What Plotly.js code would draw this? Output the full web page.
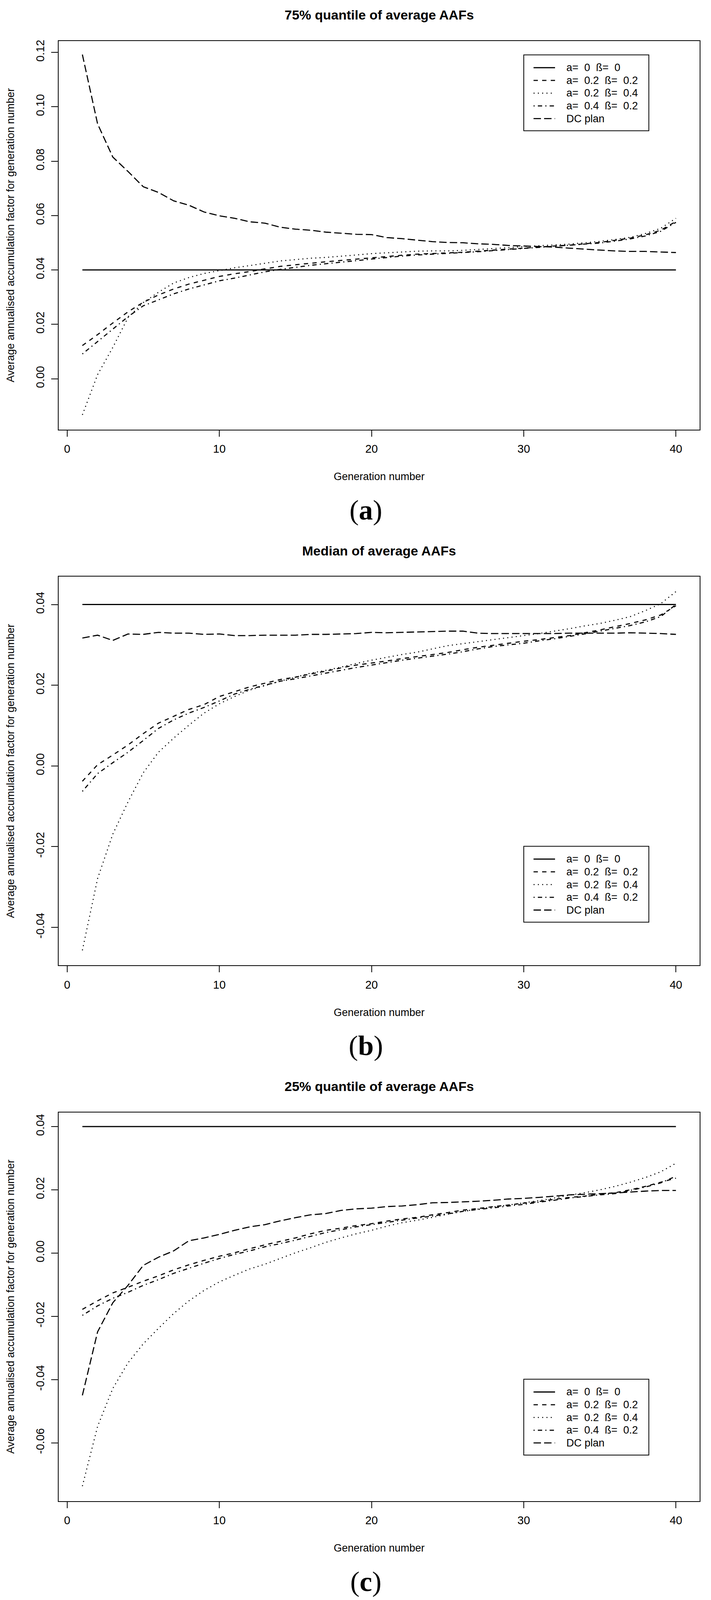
<!DOCTYPE html>
<html>
<head>
<meta charset="utf-8">
<script src="https://cdn.plot.ly/plotly-3.0.1.min.js"></script>
<style>
  html, body { margin: 0; padding: 0; background: #ffffff; overflow: hidden; }
  #chart { width: 1819px; }
</style>
</head>
<body>
<div id="chart"></div>
<script>
// ---------------- data ----------------
const generation = [1,2,3,4,5,6,7,8,9,10,11,12,13,14,15,16,17,18,19,20,
                    21,22,23,24,25,26,27,28,29,30,31,32,33,34,35,36,37,38,39,40];

const seriesNames = [
  "a=\u00a0\u00a00\u00a0\u00a0ß=\u00a0\u00a00",
  "a=\u00a0\u00a00.2\u00a0\u00a0ß=\u00a0\u00a00.2",
  "a=\u00a0\u00a00.2\u00a0\u00a0ß=\u00a0\u00a00.4",
  "a=\u00a0\u00a00.4\u00a0\u00a0ß=\u00a0\u00a00.2",
  "DC plan"
];

const panelTitles = ["75% quantile of average AAFs", "Median of average AAFs", "25% quantile of average AAFs"];
const panelLabels = ["a", "b", "c"];
const xAxisTitle = "Generation number";
const yAxisTitle = "Average annualised accumulation factor for generation number";

const xTickVals = [0, 10, 20, 30, 40];
const xTickText = ["0", "10", "20", "30", "40"];

const yTickVals75 = [0.00, 0.02, 0.04, 0.06, 0.08, 0.10, 0.12];
const yTickText75 = ["0.00", "0.02", "0.04", "0.06", "0.08", "0.10", "0.12"];
const yTickValsMed = [-0.04, -0.02, 0.00, 0.02, 0.04];
const yTickTextMed = ["-0.04", "-0.02", "0.00", "0.02", "0.04"];
const yTickVals25 = [-0.06, -0.04, -0.02, 0.00, 0.02, 0.04];
const yTickText25 = ["-0.06", "-0.04", "-0.02", "0.00", "0.02", "0.04"];

// ---- 75% quantile ----
const q75_a0_b0 = [0.04,0.04,0.04,0.04,0.04,0.04,0.04,0.04,0.04,0.04,0.04,0.04,0.04,0.04,0.04,0.04,0.04,0.04,0.04,0.04,
                   0.04,0.04,0.04,0.04,0.04,0.04,0.04,0.04,0.04,0.04,0.04,0.04,0.04,0.04,0.04,0.04,0.04,0.04,0.04,0.04];
const q75_a02_b02 = [0.0122,0.0162,0.0205,0.0246,0.0281,0.0308,0.0330,0.0348,0.0362,0.0376,
                     0.0386,0.0394,0.0404,0.0413,0.0419,0.0425,0.0430,0.0435,0.0440,0.0445,
                     0.0450,0.0454,0.0458,0.0460,0.0463,0.0465,0.0469,0.0473,0.0476,0.0480,
                     0.0484,0.0488,0.0491,0.0496,0.0501,0.0509,0.0517,0.0529,0.0546,0.0578];
const q75_a02_b04 = [-0.0133,0.0015,0.0115,0.0225,0.0280,0.0318,0.0352,0.0372,0.0387,0.0398,
                     0.0408,0.0416,0.0425,0.0433,0.0438,0.0443,0.0446,0.0450,0.0455,0.0460,
                     0.0463,0.0466,0.0469,0.0470,0.0470,0.0472,0.0475,0.0478,0.0482,0.0486,
                     0.0489,0.0492,0.0495,0.0500,0.0505,0.0512,0.0520,0.0534,0.0553,0.0590];
const q75_a04_b02 = [0.0091,0.0137,0.0182,0.0228,0.0268,0.0290,0.0312,0.0330,0.0345,0.0360,
                     0.0370,0.0381,0.0393,0.0402,0.0410,0.0417,0.0423,0.0428,0.0434,0.0440,
                     0.0446,0.0451,0.0455,0.0458,0.0460,0.0463,0.0467,0.0471,0.0475,0.0479,
                     0.0483,0.0487,0.0490,0.0494,0.0499,0.0506,0.0514,0.0525,0.0542,0.0575];
const q75_dc = [0.1192,0.0937,0.0815,0.0762,0.0706,0.0685,0.0654,0.0638,0.0613,0.0599,
                0.0590,0.0577,0.0572,0.0557,0.0550,0.0546,0.0539,0.0535,0.0531,0.0530,
                0.0519,0.0515,0.0510,0.0504,0.0501,0.0500,0.0496,0.0494,0.0490,0.0488,
                0.0486,0.0484,0.0480,0.0476,0.0473,0.0470,0.0468,0.0468,0.0466,0.0464];

// ---- median ----
const med_a0_b0 = [0.04,0.04,0.04,0.04,0.04,0.04,0.04,0.04,0.04,0.04,0.04,0.04,0.04,0.04,0.04,0.04,0.04,0.04,0.04,0.04,
                   0.04,0.04,0.04,0.04,0.04,0.04,0.04,0.04,0.04,0.04,0.04,0.04,0.04,0.04,0.04,0.04,0.04,0.04,0.04,0.04];
const med_a02_b02 = [-0.0038,0.0003,0.0027,0.0052,0.0080,0.0106,0.0123,0.0140,0.0152,0.0172,
                     0.0184,0.0196,0.0205,0.0214,0.0220,0.0228,0.0235,0.0243,0.0250,0.0255,
                     0.0260,0.0266,0.0271,0.0276,0.0281,0.0288,0.0294,0.0299,0.0304,0.0309,
                     0.0313,0.0318,0.0323,0.0330,0.0337,0.0345,0.0353,0.0362,0.0374,0.0397];
const med_a02_b04 = [-0.0457,-0.0279,-0.0169,-0.0089,-0.0017,0.0034,0.0069,0.0101,0.0131,0.0154,
                     0.0172,0.0188,0.0199,0.0210,0.0220,0.0230,0.0237,0.0245,0.0254,0.0262,
                     0.0269,0.0276,0.0282,0.0290,0.0298,0.0303,0.0308,0.0313,0.0318,0.0323,
                     0.0328,0.0334,0.0340,0.0347,0.0353,0.0361,0.0370,0.0385,0.0402,0.0432];
const med_a04_b02 = [-0.0063,-0.0019,0.0008,0.0034,0.0063,0.0093,0.0114,0.0131,0.0145,0.0161,
                     0.0178,0.0190,0.0200,0.0210,0.0216,0.0223,0.0230,0.0237,0.0244,0.0250,
                     0.0256,0.0262,0.0267,0.0272,0.0277,0.0283,0.0290,0.0296,0.0300,0.0304,
                     0.0310,0.0315,0.0321,0.0327,0.0334,0.0341,0.0348,0.0357,0.0370,0.0400];
const med_dc = [0.0317,0.0324,0.0311,0.0327,0.0326,0.0331,0.0329,0.0329,0.0326,0.0327,
                0.0323,0.0323,0.0324,0.0324,0.0324,0.0326,0.0326,0.0327,0.0328,0.0331,
                0.0330,0.0331,0.0332,0.0333,0.0334,0.0334,0.0329,0.0328,0.0328,0.0328,
                0.0328,0.0328,0.0329,0.0329,0.0329,0.0329,0.0330,0.0329,0.0328,0.0326];

// ---- 25% quantile ----
const q25_a0_b0 = [0.04,0.04,0.04,0.04,0.04,0.04,0.04,0.04,0.04,0.04,0.04,0.04,0.04,0.04,0.04,0.04,0.04,0.04,0.04,0.04,
                   0.04,0.04,0.04,0.04,0.04,0.04,0.04,0.04,0.04,0.04,0.04,0.04,0.04,0.04,0.04,0.04,0.04,0.04,0.04,0.04];
const q25_a02_b02 = [-0.0178,-0.0151,-0.0126,-0.0108,-0.0089,-0.0072,-0.0053,-0.0037,-0.0023,-0.0010,
                     0.0001,0.0014,0.0026,0.0037,0.0048,0.0061,0.0072,0.0079,0.0087,0.0093,
                     0.0101,0.0108,0.0113,0.0121,0.0128,0.0136,0.0141,0.0147,0.0152,0.0158,
                     0.0163,0.0170,0.0176,0.0180,0.0186,0.0191,0.0200,0.0211,0.0224,0.0237];
const q25_a02_b04 = [-0.0737,-0.0548,-0.0428,-0.0347,-0.0287,-0.0238,-0.0191,-0.0151,-0.0118,-0.0091,
                     -0.0070,-0.0050,-0.0035,-0.0017,0.0001,0.0017,0.0034,0.0048,0.0061,0.0072,
                     0.0085,0.0096,0.0104,0.0113,0.0123,0.0132,0.0139,0.0146,0.0152,0.0159,
                     0.0166,0.0174,0.0183,0.0191,0.0200,0.0211,0.0224,0.0239,0.0257,0.0284];
const q25_a04_b02 = [-0.0197,-0.0167,-0.0143,-0.0124,-0.0102,-0.0084,-0.0064,-0.0048,-0.0032,-0.0017,
                     -0.0004,0.0007,0.0020,0.0030,0.0041,0.0053,0.0065,0.0074,0.0083,0.0090,
                     0.0097,0.0104,0.0111,0.0117,0.0124,0.0132,0.0138,0.0143,0.0149,0.0154,
                     0.0161,0.0167,0.0174,0.0179,0.0184,0.0188,0.0198,0.0209,0.0222,0.0243];
const q25_dc = [-0.0450,-0.0249,-0.0157,-0.0102,-0.0039,-0.0013,0.0007,0.0039,0.0048,0.0059,
                0.0072,0.0083,0.0090,0.0102,0.0112,0.0121,0.0125,0.0135,0.0140,0.0142,
                0.0147,0.0149,0.0153,0.0159,0.0160,0.0162,0.0164,0.0167,0.0171,0.0173,
                0.0176,0.0180,0.0184,0.0186,0.0188,0.0190,0.0193,0.0196,0.0198,0.0198];

// ---------------- build ----------------
// Vertical positions are measured on the 4492 px tall reference and scaled to
// the visible viewport height so the whole figure is photographed.
const W = 1819, REF_H = 4492;
const H = Math.min(REF_H, window.innerHeight || REF_H);
const S = H / REF_H;
const vy = v => v * S;

const panels = [
  { series: [q75_a0_b0, q75_a02_b02, q75_a02_b04, q75_a04_b02, q75_dc],
    yrange: [-0.0187, 0.1242], tv: yTickVals75, tt: yTickText75,
    top: 115, legendTop: 154 },
  { series: [med_a0_b0, med_a02_b02, med_a02_b04, med_a04_b02, med_dc],
    yrange: [-0.0494, 0.0469], tv: yTickValsMed, tt: yTickTextMed,
    top: 1619, legendTop: 2376 },
  { series: [q25_a0_b0, q25_a02_b02, q25_a02_b04, q25_a04_b02, q25_dc],
    yrange: [-0.0784, 0.0445], tv: yTickVals25, tt: yTickText25,
    top: 3123, legendTop: 3872 }
];

const plotLeft = 150, plotRight = 1790, plotH = 1091;
const FONT = '"Liberation Sans", Arial, Helvetica, sans-serif';

const lineStyles = [
  { dash: 'solid', width: 3 },
  { dash: '11px,11px', width: 2.8 },
  { dash: '2.6px,8.4px', width: 2.6 },
  { dash: '2.8px,8.2px,11px,8.2px', width: 2.8 },
  { dash: '19px,8px', width: 2.8 }
];

// legend box geometry (reference px)
const LEG = { left: 1340, right: 1660, height: 213, firstRow: 36, rowGap: 35.75,
              sampleX0: 1365, sampleX1: 1420, textX: 1447 };

const traces = [];
const layout = {
  width: W, height: H,
  margin: { l: 0, r: 0, t: 0, b: 0 },
  paper_bgcolor: '#ffffff', plot_bgcolor: '#ffffff',
  showlegend: false, hovermode: false,
  font: { family: FONT, color: '#000000' },
  annotations: [], shapes: []
};

const px2x = v => v / W;
const px2y = v => 1 - vy(v) / H;

panels.forEach((p, i) => {
  const sfx = i === 0 ? '' : String(i + 1);
  p.series.forEach((vals, k) => {
    traces.push({
      type: 'scatter', mode: 'lines',
      x: generation, y: vals,
      name: seriesNames[k],
      xaxis: 'x' + sfx, yaxis: 'y' + sfx,
      line: { color: '#000000', width: lineStyles[k].width, dash: lineStyles[k].dash }
    });
  });
  layout['xaxis' + sfx] = {
    domain: [px2x(plotLeft), px2x(plotRight)],
    anchor: 'y' + sfx,
    range: [-0.56, 41.56],
    tickvals: xTickVals, ticktext: xTickText,
    ticks: 'outside', ticklen: Math.round(17 * S), tickwidth: 2, tickcolor: '#000',
    ticklabelstandoff: Math.round(8 * S),
    showline: true, mirror: true, linewidth: 2, linecolor: '#000',
    showgrid: false, zeroline: false,
    tickfont: { size: 29, family: FONT, color: '#000' },
    title: { text: xAxisTitle, font: { size: 27, family: FONT, color: '#000' }, standoff: Math.round(50 * S) }
  };
  layout['yaxis' + sfx] = {
    domain: [px2y(p.top + plotH), px2y(p.top)],
    anchor: 'x' + sfx,
    range: p.yrange,
    tickvals: p.tv, ticktext: p.tt,
    tickangle: -90,
    ticks: 'outside', ticklen: 17, tickwidth: 2, tickcolor: '#000',
    ticklabelstandoff: 6,
    showline: true, mirror: true, linewidth: 2, linecolor: '#000',
    showgrid: false, zeroline: false,
    tickfont: { size: 29, family: FONT, color: '#000' },
    title: { text: yAxisTitle, font: { size: 27, family: FONT, color: '#000' }, standoff: 43 }
  };

  // legend (box, line samples, labels)
  layout.shapes.push({
    type: 'rect', xref: 'paper', yref: 'paper',
    x0: px2x(LEG.left), x1: px2x(LEG.right),
    y0: px2y(p.legendTop), y1: px2y(p.legendTop + LEG.height),
    line: { color: '#000', width: 2 }, fillcolor: '#ffffff', layer: 'above'
  });
  seriesNames.forEach((nm, k) => {
    const yc = p.legendTop + LEG.firstRow + LEG.rowGap * k;
    layout.shapes.push({
      type: 'line', xref: 'paper', yref: 'paper',
      x0: px2x(LEG.sampleX0), x1: px2x(LEG.sampleX1), y0: px2y(yc), y1: px2y(yc),
      line: { color: '#000', width: lineStyles[k].width, dash: lineStyles[k].dash }, layer: 'above'
    });
    layout.annotations.push({
      xref: 'paper', yref: 'paper', x: px2x(LEG.textX), y: px2y(yc),
      xanchor: 'left', yanchor: 'middle', showarrow: false,
      text: nm, font: { size: 27, family: FONT, color: '#000' }
    });
  });

  layout.annotations.push({
    xref: 'paper', yref: 'paper', x: px2x((plotLeft + plotRight) / 2), y: px2y(p.top - 73),
    xanchor: 'center', yanchor: 'middle', showarrow: false,
    text: '<b>' + panelTitles[i] + '</b>',
    font: { size: 34, family: FONT, color: '#000' }
  });
  layout.annotations.push({
    xref: 'paper', yref: 'paper', x: px2x(936), y: px2y(p.top + plotH + 226),
    xanchor: 'center', yanchor: 'middle', showarrow: false,
    text: '(<b>' + panelLabels[i] + '</b>)',
    font: { size: 72, family: '"Liberation Serif", "Times New Roman", serif', color: '#000' }
  });
});

document.getElementById('chart').style.height = H + 'px';
Plotly.newPlot('chart', traces, layout, { displayModeBar: false, staticPlot: true });
</script>
</body>
</html>
